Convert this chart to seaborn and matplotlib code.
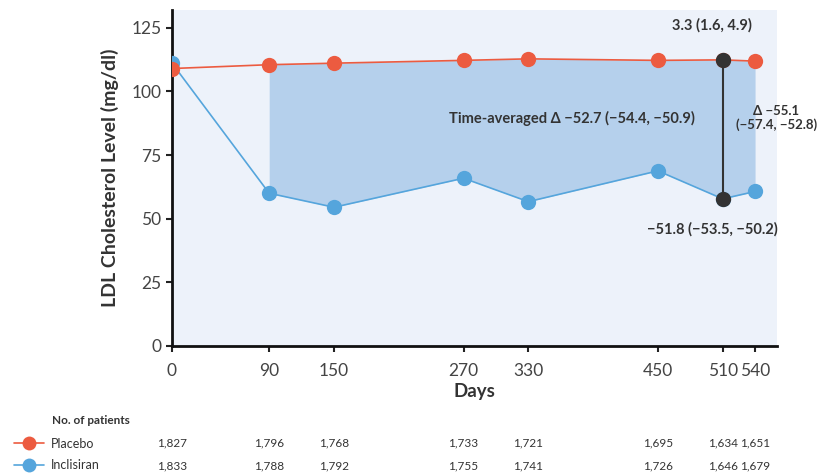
import pandas as pd
import seaborn as sns
import matplotlib.pyplot as plt
import matplotlib.transforms as mtransforms
from matplotlib.lines import Line2D

# data
days = [0, 90, 150, 270, 330, 450, 510, 540]
placebo = [109.0, 110.5, 111.1, 112.2, 112.8, 112.2, 112.4, 111.9]
inclisiran = [111.1, 60.0, 54.5, 65.9, 56.7, 68.8, 57.8, 60.7]
n_placebo = ["1,827", "1,796", "1,768", "1,733", "1,721", "1,695", "1,634", "1,651"]
n_inclisiran = ["1,833", "1,788", "1,792", "1,755", "1,741", "1,726", "1,646", "1,679"]
y_ticks = [0, 25, 50, 75, 100, 125]

RED = "#ec5b40"
BLUE = "#55a5dc"
DARK = "#333333"
TEXT = "#333333"

sns.set_style("ticks")
plt.rcParams["font.family"] = ["Lato", "DejaVu Sans"]

df = pd.DataFrame({
    "Days": days * 2,
    "LDL": inclisiran + placebo,
    "Group": ["Inclisiran"] * len(days) + ["Placebo"] * len(days),
})

fig = plt.figure(figsize=(8.21, 4.75), dpi=100)
ax = fig.add_axes([0.2095, 0.2716, 0.7365, 0.7074])
ax.set_facecolor("#edf2fa")

# shaded difference from day 90 onward
mask = [d >= 90 for d in days]
ax.fill_between(
    [d for d, m in zip(days, mask) if m],
    [v for v, m in zip(inclisiran, mask) if m],
    [v for v, m in zip(placebo, mask) if m],
    color="#b5d0ec", lw=0, zorder=1,
)

sns.lineplot(
    data=df, x="Days", y="LDL", hue="Group",
    palette={"Inclisiran": BLUE, "Placebo": RED},
    marker="o", markersize=11, markeredgewidth=0, linewidth=1.2,
    legend=False, ax=ax, zorder=3,
)

# day 510 difference
i510 = days.index(510)
ax.plot([510, 510], [inclisiran[i510], placebo[i510]], color=DARK, lw=1.5, zorder=4)
ax.plot([510, 510], [inclisiran[i510], placebo[i510]], "o", color=DARK,
        markersize=11, markeredgewidth=0, zorder=5)

ax.set_xlim(0, 560)
ax.set_ylim(0, 132)
ax.set_xticks(days)
ax.set_yticks(y_ticks)
ax.tick_params(labelsize=12.5, width=1.5, length=4, color="#222222", labelcolor="#444444")
ax.tick_params(axis="x", pad=8)
ax.set_xlabel("Days", fontsize=13.5, fontweight="bold", labelpad=3, color=TEXT)
ax.set_ylabel("LDL Cholesterol Level (mg/dl)", fontsize=14, fontweight="bold",
              labelpad=9, color=TEXT)
sns.despine(ax=ax)
for s in ("left", "bottom"):
    ax.spines[s].set_linewidth(2)
    ax.spines[s].set_color("#111111")

txt = dict(fontsize=10.5, fontweight="bold", color=TEXT)
ax.text(500, 126, "3.3 (1.6, 4.9)", ha="center", va="center", **txt)
ax.text(370, 89.5, "Time-averaged \u0394 \u221252.7 (\u221254.4, \u221250.9)",
        ha="center", va="center", **txt)
ax.text(559.5, 89.5, "\u0394 \u221255.1\n(\u221257.4, \u221252.8)", ha="center",
        va="center", linespacing=1.1, clip_on=False,
        fontsize=9.5, fontweight="bold", color=TEXT)
ax.text(500, 46, "\u221251.8 (\u221253.5, \u221250.2)", ha="center", va="center", **txt)

# number at risk table
trans = mtransforms.blended_transform_factory(ax.transData, fig.transFigure)
for d, a, b in zip(days, n_placebo, n_inclisiran):
    ax.text(d, 1 - 443 / 475, a, transform=trans, ha="center", va="center",
            fontsize=8.5, color=TEXT, clip_on=False)
    ax.text(d, 1 - 466 / 475, b, transform=trans, ha="center", va="center",
            fontsize=8.5, color=TEXT, clip_on=False)

fig.text(52 / 821, 1 - 420 / 475, "No. of patients", ha="left", va="center",
         fontsize=8.5, fontweight="bold", color=TEXT)
handles = [
    Line2D([], [], color=RED, marker="o", markersize=10, markeredgewidth=0, lw=1.2),
    Line2D([], [], color=BLUE, marker="o", markersize=10, markeredgewidth=0, lw=1.2),
]
leg = fig.legend(handles, ["Placebo", "Inclisiran"],
                 loc="center left", bbox_to_anchor=(14 / 821, 1 - 454.5 / 475),
                 frameon=False, fontsize=9, borderpad=0, borderaxespad=0,
                 handlelength=2.4, handletextpad=0.55, labelspacing=0.75)
for t in leg.get_texts():
    t.set_color(TEXT)

fig.savefig("out.png", dpi=100)
